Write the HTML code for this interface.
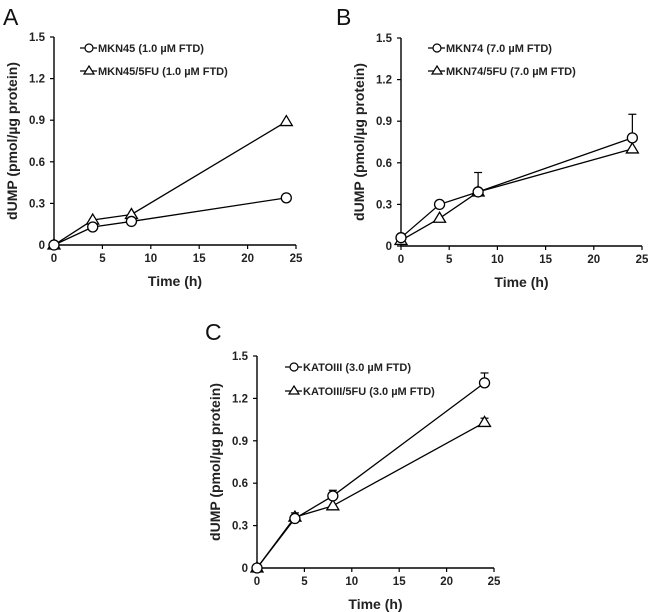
<!DOCTYPE html>
<html><head><meta charset="utf-8"><style>
html,body{margin:0;padding:0;background:#fff;}
svg{display:block;font-family:"Liberation Sans",Arial,sans-serif;}
</style></head><body>
<svg id="fig" width="650" height="612" viewBox="0 0 650 612" xmlns="http://www.w3.org/2000/svg"></svg>
<script>
// Panel A
const timesA = [0, 4, 8, 24];
const circleA = [0, 0.13, 0.17, 0.34];
const triA = [0, 0.18, 0.22, 0.89];
const circleErrA = [0, 0, 0, 0];
const triErrA = [0, 0, 0, 0];
// Panel B
const timesB = [0, 4, 8, 24];
const circleB = [0.06, 0.30, 0.39, 0.78];
const triB = [0.04, 0.20, 0.39, 0.70];
const circleErrB = [0, 0, 0.14, 0.17];
const triErrB = [0, 0, 0, 0];
// Panel C
const timesC = [0, 4, 8, 24];
const circleC = [0, 0.35, 0.51, 1.31];
const triC = [0, 0.36, 0.44, 1.03];
const circleErrC = [0, 0, 0.04, 0.07];
const triErrC = [0, 0.03, 0, 0.03];
const xTicks = [0, 5, 10, 15, 20, 25];
const yTicks = [0, 0.3, 0.6, 0.9, 1.2, 1.5];
const yTickLabels = ["0", "0.3", "0.6", "0.9", "1.2", "1.5"];

const NS = "http://www.w3.org/2000/svg";
const svg = document.getElementById("fig");
function el(tag, attrs, parent, text) {
  const e = document.createElementNS(NS, tag);
  for (const k in attrs) e.setAttribute(k, attrs[k]);
  if (text !== undefined) e.textContent = text;
  (parent || svg).appendChild(e);
  return e;
}

function panel(cfg) {
  const g = el("g", {});
  
  
  const sx = v => cfg.x0 + (v / 25) * (cfg.x1 - cfg.x0);
  const sy = v => cfg.y0 - (v / 1.5) * (cfg.y0 - cfg.y1);

  const letter = el("text", {x: cfg.lx, y: cfg.ly, "font-size": 23, fill: "#111"}, g, cfg.letter);
  
  

  const ax = el("path", {d: `M${cfg.x0},${cfg.y1} V${cfg.y0} H${cfg.x1}`, stroke: "#000", "stroke-width": 1.4, fill: "none"}, g);
  
  

  yTicks.forEach((v, i) => {
    el("line", {x1: cfg.x0 - 4, x2: cfg.x0, y1: sy(v), y2: sy(v), stroke: "#000", "stroke-width": 1.2}, g);
    const t = el("text", {x: cfg.x0 - 9, y: sy(v) + 4, "font-size": 11.5, "font-weight": "bold", "text-anchor": "end", fill: "#222"}, g, yTickLabels[i]);
    
    
  });
  xTicks.forEach(v => {
    el("line", {x1: sx(v), x2: sx(v), y1: cfg.y0, y2: cfg.y0 + 4, stroke: "#000", "stroke-width": 1.2}, g);
    const t = el("text", {x: sx(v), y: cfg.y0 + 17, "font-size": 11.5, "font-weight": "bold", "text-anchor": "middle", fill: "#222"}, g, String(v));
    
    
  });
  const xt = el("text", {x: (cfg.x0 + cfg.x1) / 2, y: cfg.y0 + 41, "font-size": 14, "font-weight": "bold", "text-anchor": "middle", fill: "#222"}, g, "Time (h)");
  
  
  const cy = (cfg.y0 + cfg.y1) / 2;
  const yt = el("text", {x: 0, y: 0, transform: `translate(${cfg.x0 - 37},${cy}) rotate(-90)`, "font-size": 14, "font-weight": "bold", "text-anchor": "middle", fill: "#222"}, g, "dUMP (pmol/µg protein)");
  
  

  function series(vals, errs, shape, name) {
    const sg = el("g", {}, g);
    
    
    el("polyline", {points: cfg.times.map((t, i) => sx(t) + "," + sy(vals[i])).join(" "), fill: "none", stroke: "#000", "stroke-width": 1.3}, sg);
    cfg.times.forEach((t, i) => {
      if (errs[i] > 0) {
        const top = sy(vals[i] + errs[i]);
        el("line", {x1: sx(t), x2: sx(t), y1: sy(vals[i]), y2: top, stroke: "#000", "stroke-width": 1.2}, sg);
        el("line", {x1: sx(t) - 4, x2: sx(t) + 4, y1: top, y2: top, stroke: "#000", "stroke-width": 1.2}, sg);
      }
    });
    cfg.times.forEach((t, i) => {
      const x = sx(t), y = sy(vals[i]);
      let m;
      if (shape === "circle") m = el("circle", {cx: x, cy: y, r: 5, fill: "#fff", stroke: "#000", "stroke-width": 1.3}, sg);
      else m = el("path", {d: `M${x},${y - 6} L${x + 6},${y + 4} L${x - 6},${y + 4} Z`, fill: "#fff", stroke: "#000", "stroke-width": 1.3}, sg);
      
      
    });
  }
  series(cfg.tri, cfg.triErr, "tri", "series-" + cfg.names[1].split(" ")[0].toLowerCase().replace("/", "-"));
  series(cfg.circ, cfg.circErr, "circle", "series-" + cfg.names[0].split(" ")[0].toLowerCase());

  cfg.names.forEach((n, i) => {
    const lg = el("g", {}, g);
    
    
    const y = cfg.legY[i];
    el("line", {x1: cfg.legX, x2: cfg.legX + 17, y1: y, y2: y, stroke: "#000", "stroke-width": 1.3}, lg);
    const mx = cfg.legX + 9;
    if (i === 0) el("circle", {cx: mx, cy: y, r: 4, fill: "#fff", stroke: "#000", "stroke-width": 1.2}, lg);
    else el("path", {d: `M${mx},${y - 5} L${mx + 5},${y + 3} L${mx - 5},${y + 3} Z`, fill: "#fff", stroke: "#000", "stroke-width": 1.2}, lg);
    el("text", {x: cfg.legX + 18, y: y + 4, "font-size": 11, "font-weight": "bold", fill: "#222"}, lg, n);
  });
}

panel({letter: "A", lx: 3, ly: 25, x0: 54, x1: 296, y0: 245, y1: 37,
  times: timesA, circ: circleA, tri: triA, circErr: circleErrA, triErr: triErrA,
  names: ["MKN45 (1.0 µM FTD)", "MKN45/5FU (1.0 µM FTD)"], legX: 80, legY: [48, 71]});
panel({letter: "B", lx: 336, ly: 25, x0: 401, x1: 642, y0: 246, y1: 38,
  times: timesB, circ: circleB, tri: triB, circErr: circleErrB, triErr: triErrB,
  names: ["MKN74 (7.0 µM FTD)", "MKN74/5FU (7.0 µM FTD)"], legX: 428, legY: [48, 71]});
panel({letter: "C", lx: 205, ly: 340, x0: 257, x1: 494, y0: 568, y1: 356,
  times: timesC, circ: circleC, tri: triC, circErr: circleErrC, triErr: triErrC,
  names: ["KATOIII (3.0 µM FTD)", "KATOIII/5FU (3.0 µM FTD)"], legX: 285, legY: [367, 391]});
</script>
</body></html>
